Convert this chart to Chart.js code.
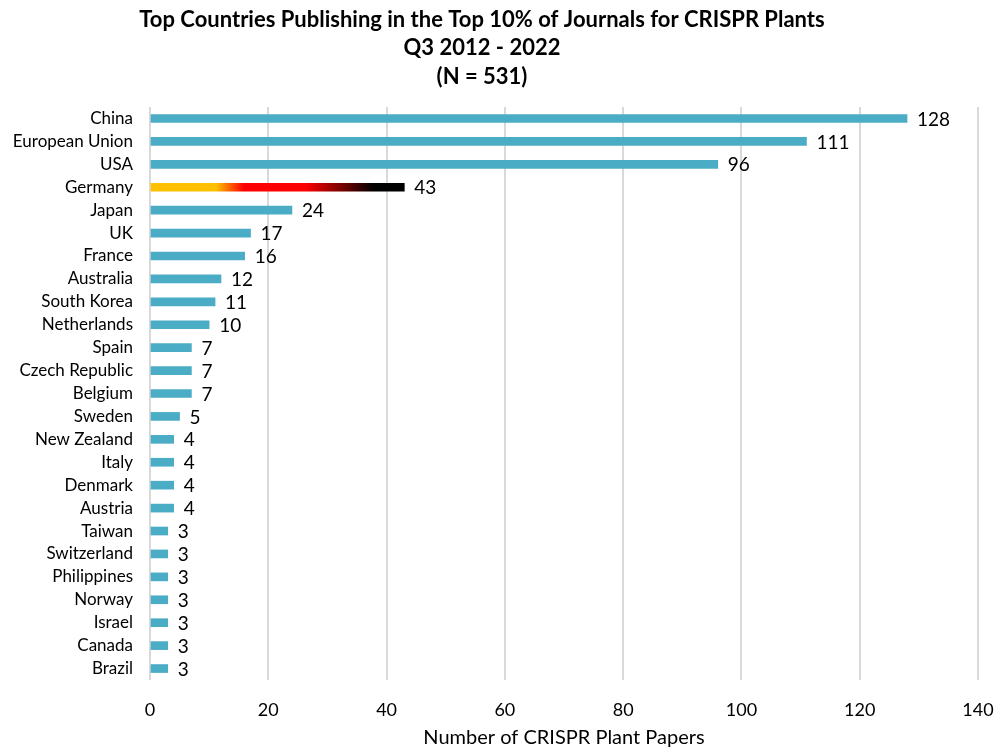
<!DOCTYPE html>
<html>
<head>
<meta charset="utf-8">
<script src="https://cdn.jsdelivr.net/npm/chart.js@4.4.0/dist/chart.umd.min.js"></script>
<style>
  html, body { margin: 0; padding: 0; background: #fff; }
  #wrap { width: 998px; height: 750px; }
</style>
</head>
<body>
<div id="wrap"><canvas id="chart_id"></canvas></div>
<script>
// data
const countries = ["China", "European Union", "USA", "Germany", "Japan", "UK", "France", "Australia",
  "South Korea", "Netherlands", "Spain", "Czech Republic", "Belgium", "Sweden", "New Zealand", "Italy",
  "Denmark", "Austria", "Taiwan", "Switzerland", "Philippines", "Norway", "Israel", "Canada", "Brazil"];
const papers = [128, 111, 96, 43, 24, 17, 16, 12, 11, 10, 7, 7, 7, 5, 4, 4, 4, 4, 3, 3, 3, 3, 3, 3, 3];
const title_lines = ["Top Countries Publishing in the Top 10% of Journals for CRISPR Plants", "Q3 2012 - 2022", "(N = 531)"];
const x_title = "Number of CRISPR Plant Papers";

const FONT = "Lato, 'Open Sans', sans-serif";
const TEAL = "#4BACC6";

// germany bar gets the flag gradient
function barColor(ctx) {
  if (countries[ctx.dataIndex] != "Germany") return TEAL;
  const chart = ctx.chart;
  const xs = chart.scales.x;
  if (!xs || !chart.chartArea) return "#FFC000";
  const x0 = xs.getPixelForValue(0);
  const x1 = xs.getPixelForValue(papers[ctx.dataIndex]);
  const g = chart.ctx.createLinearGradient(x0, 0, x1, 0);
  g.addColorStop(0, "#FFC000");
  g.addColorStop(0.26, "#FFC000");
  g.addColorStop(0.37, "#FF0000");
  g.addColorStop(0.61, "#FF0000");
  g.addColorStop(0.88, "#000000");
  g.addColorStop(1, "#000000");
  return g;
}

const valueLabels = {
  id: "valueLabels",
  afterDatasetsDraw(chart) {
    const c = chart.ctx;
    const meta = chart.getDatasetMeta(0);
    c.save();
    c.font = "19px " + FONT;
    c.fillStyle = "#000";
    c.textAlign = "left";
    c.textBaseline = "middle";
    meta.data.forEach((bar, i) => {
      c.fillText(String(papers[i]), bar.x + 10, bar.y + 1);
    });
    c.restore();
  }
};

const titleText = {
  id: "titleText",
  afterDraw(chart) {
    const c = chart.ctx;
    c.save();
    c.font = "bold 22px " + FONT;
    c.fillStyle = "#000";
    c.textAlign = "center";
    c.textBaseline = "middle";
    const ys = [20, 48, 77];
    for (let i = 0; i < title_lines.length; i++) {
      c.fillText(title_lines[i], 482, ys[i]);
    }
    c.restore();
  }
};

new Chart(document.getElementById("chart_id"), {
  type: "bar",
  data: {
    labels: countries,
    datasets: [{
      data: papers,
      backgroundColor: barColor,
      barThickness: 8,
      borderWidth: 0
    }]
  },
  options: {
    indexAxis: "y",
    responsive: true,
    maintainAspectRatio: false,
    animation: false,
    layout: { padding: { top: 107, right: 0, bottom: 0, left: 0 } },
    plugins: {
      legend: { display: false },
      title: { display: false },
      tooltip: { enabled: false }
    },
    scales: {
      x: {
        min: 0,
        max: 140,
        ticks: { stepSize: 20, color: "#000", font: { family: FONT, size: 18 }, padding: 19 },
        grid: { color: "#D9D9D9", lineWidth: 2, drawTicks: false },
        border: { display: false },
        title: { display: true, text: x_title, color: "#000", font: { family: FONT, size: 20 }, padding: { top: 0, bottom: 0 } },
        afterFit(scale) {
          scale.height = 70;
          scale.paddingLeft = 0;
          scale.paddingRight = 20;
        }
      },
      y: {
        ticks: { color: "#000", font: { family: FONT, size: 17 }, padding: 17, autoSkip: false },
        grid: { display: false, drawTicks: false },
        border: { display: false },
        afterFit(scale) { scale.width = 150; }
      }
    }
  },
  plugins: [valueLabels, titleText]
});
</script>
</body>
</html>
